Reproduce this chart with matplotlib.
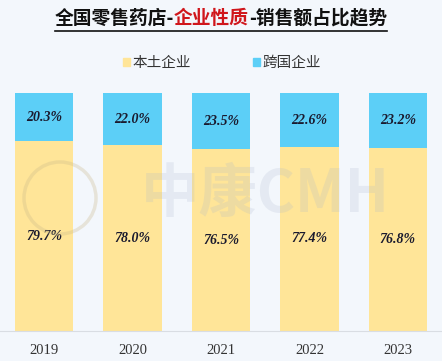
import matplotlib.pyplot as plt
from matplotlib.patches import Ellipse
import numpy as np

plt.rcParams['font.family'] = ['Noto Sans CJK SC', 'DejaVu Sans']

years = ['2019', '2020', '2021', '2022', '2023']
local_share = [79.7, 78.0, 76.5, 77.4, 76.8]
foreign_share = [20.3, 22.0, 23.5, 22.6, 23.2]

yellow = '#FFE598'
blue = '#5CCFF7'
bg = '#F3F7FC'

W, H = 442, 361
fig = plt.figure(figsize=(W / 100, H / 100), dpi=100)
fig.patch.set_facecolor(bg)
ax = fig.add_axes([0, 0.083, 1, 0.659])
ax.set_facecolor(bg)

x = np.arange(len(years))
ax.bar(x, local_share, width=0.66, color=yellow, zorder=2)
ax.bar(x, foreign_share, width=0.66, bottom=local_share, color=blue, zorder=2)

label_font = dict(family='Liberation Serif', fontsize=10, fontweight='bold',
                  fontstyle='italic', color='#1a1a2e', ha='center', va='center', zorder=5)
for i in range(len(years)):
    ax.text(x[i], local_share[i] / 2, f'{local_share[i]:.1f}%', **label_font)
    ax.text(x[i], local_share[i] + foreign_share[i] / 2, f'{foreign_share[i]:.1f}%', **label_font)

ax.set_xlim(-0.5, 4.5)
ax.set_ylim(0, 100)
ax.set_yticks([])
ax.set_xticks(x)
ax.set_xticklabels(years, family='Liberation Serif', fontsize=10.5, color='#333333')
ax.tick_params(axis='x', length=0, pad=9)
for s in ['top', 'left', 'right']:
    ax.spines[s].set_visible(False)
ax.spines['bottom'].set_color('#D9DDE3')
ax.spines['bottom'].set_zorder(3)

# watermark
fig.text(0.6, 0.46, '中康CMH', fontsize=42, fontstyle='italic', fontweight='bold',
         color='#A8B4CC', alpha=0.2, ha='center', va='center', zorder=4)
fig.add_artist(Ellipse((60 / W, 1 - 198 / H), 72 / W, 72 / H, transform=fig.transFigure,
                       fill=False, ec='#C9B88A', lw=2.5, alpha=0.3, zorder=4))

# title in three colour pieces
fig.canvas.draw()
renderer = fig.canvas.get_renderer()
pieces = [('全国零售药店-', '#111111'), ('企业性质', '#D0161B'), ('-销售额占比趋势', '#111111')]
texts = []
for s, c in pieces:
    t = fig.text(0, 0.95, s, fontsize=13.5, fontweight='heavy', color=c, va='center')
    texts.append(t)
widths = [t.get_window_extent(renderer).width for t in texts]
total = sum(widths)
start = (W - total) / 2
for t, w in zip(texts, widths):
    t.set_x(start / W)
    start += w
left = (W - total) / 2 / W
fig.add_artist(plt.Line2D([left, left + total / W], [0.915, 0.915],
                          transform=fig.transFigure, color='#111111', lw=1.2))

# legend
fig.patches.append(plt.Rectangle((0.278, 0.818), 0.016, 0.02, transform=fig.transFigure,
                                 color=yellow, figure=fig))
fig.text(0.30, 0.826, '本土企业', fontsize=10.5, color='#333333', va='center')
fig.patches.append(plt.Rectangle((0.572, 0.818), 0.016, 0.02, transform=fig.transFigure,
                                 color=blue, figure=fig))
fig.text(0.594, 0.826, '跨国企业', fontsize=10.5, color='#333333', va='center')

fig.savefig('out.png', dpi=100, facecolor=bg)
